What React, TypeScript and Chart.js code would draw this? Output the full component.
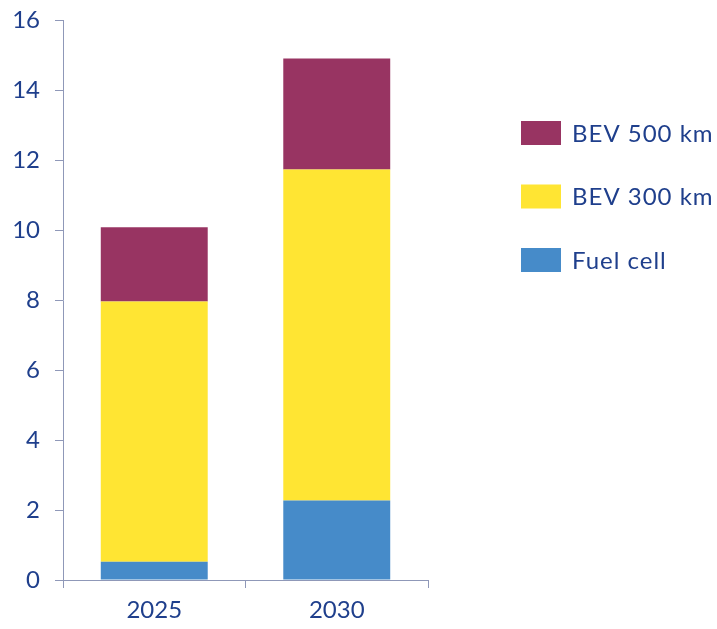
import React, { useEffect, useRef } from "react";
import { Chart, registerables } from "chart.js";

Chart.register(...registerables);

const categories = ["2025", "2030"];
const fuelCell = [0.52, 2.27];
const bev300 = [7.44, 9.46];
const bev500 = [2.12, 3.17];
const seriesLabels = ["Fuel cell", "BEV 300 km", "BEV 500 km"];
const seriesColors = ["#468BC9", "#FFE533", "#983462"];
const yMin = 0;
const yMax = 16;
const yStep = 2;

const TEXT = "#1F3F8C";
const AXIS = "#8F98B8";
const FONT = "Lato, 'Open Sans', sans-serif";

const legendPlugin = {
  id: "customLegend",
  afterDraw(chart: any) {
    const ctx = chart.ctx;
    const ds = chart.data.datasets;
    const boxX = 521;
    const boxW = 40;
    const boxH = 24;
    const startY = 133;
    const gap = 63.5;
    ctx.save();
    ctx.font = `24px ${FONT}`;
    try { (ctx as any).letterSpacing = "1px"; } catch (e) {}
    ctx.textBaseline = "middle";
    ctx.textAlign = "left";
    for (let i = 0; i < ds.length; i++) {
      const d = ds[ds.length - 1 - i];
      const cy = startY + i * gap;
      ctx.fillStyle = d.backgroundColor;
      ctx.fillRect(boxX, cy - boxH / 2, boxW, boxH);
      ctx.fillStyle = TEXT;
      ctx.fillText(d.label, boxX + boxW + 11, cy + 1);
    }
    ctx.restore();
  },
};

export default function App() {
  const ref = useRef<HTMLCanvasElement | null>(null);

  useEffect(() => {
    if (!ref.current) return;
    const values = [fuelCell, bev300, bev500];
    const chart = new Chart(ref.current, {
      type: "bar",
      data: {
        labels: categories,
        datasets: values.map((v, i) => ({
          label: seriesLabels[i],
          data: v,
          backgroundColor: seriesColors[i],
          borderWidth: 0,
          categoryPercentage: 1,
          barPercentage: 0.586,
        })),
      },
      options: {
        animation: false,
        responsive: false,
        devicePixelRatio: 1,
        layout: { padding: { top: 20, left: 0, right: 289, bottom: 0 } },
        plugins: {
          legend: { display: false },
          tooltip: { enabled: false },
        },
        scales: {
          x: {
            stacked: true,
            grid: {
              offset: true,
              drawOnChartArea: false,
              drawTicks: true,
              tickLength: 8,
              color: AXIS,
            },
            border: { color: AXIS, width: 1 },
            ticks: {
              color: TEXT,
              font: { family: FONT, size: 24 },
              padding: 8,
            },
            afterFit(scale: any) {
              scale.height = 49;
              scale.paddingLeft = 0;
              scale.paddingRight = 0;
            },
          },
          y: {
            stacked: true,
            min: yMin,
            max: yMax,
            grid: {
              drawOnChartArea: false,
              drawTicks: true,
              tickLength: 8,
              color: AXIS,
            },
            border: { color: AXIS, width: 1 },
            ticks: {
              stepSize: yStep,
              color: TEXT,
              font: { family: FONT, size: 24 },
              padding: 15,
            },
            afterFit(scale: any) {
              scale.width = 63;
              scale.paddingTop = 0;
              scale.paddingBottom = 0;
            },
          },
        },
      },
      plugins: [legendPlugin],
    });
    return () => chart.destroy();
  }, []);

  return (
    <div style={{ position: "absolute", left: 0, top: 0, width: 717, height: 629, background: "#fff" }}>
      <canvas ref={ref} width={717} height={629} />
    </div>
  );
}
